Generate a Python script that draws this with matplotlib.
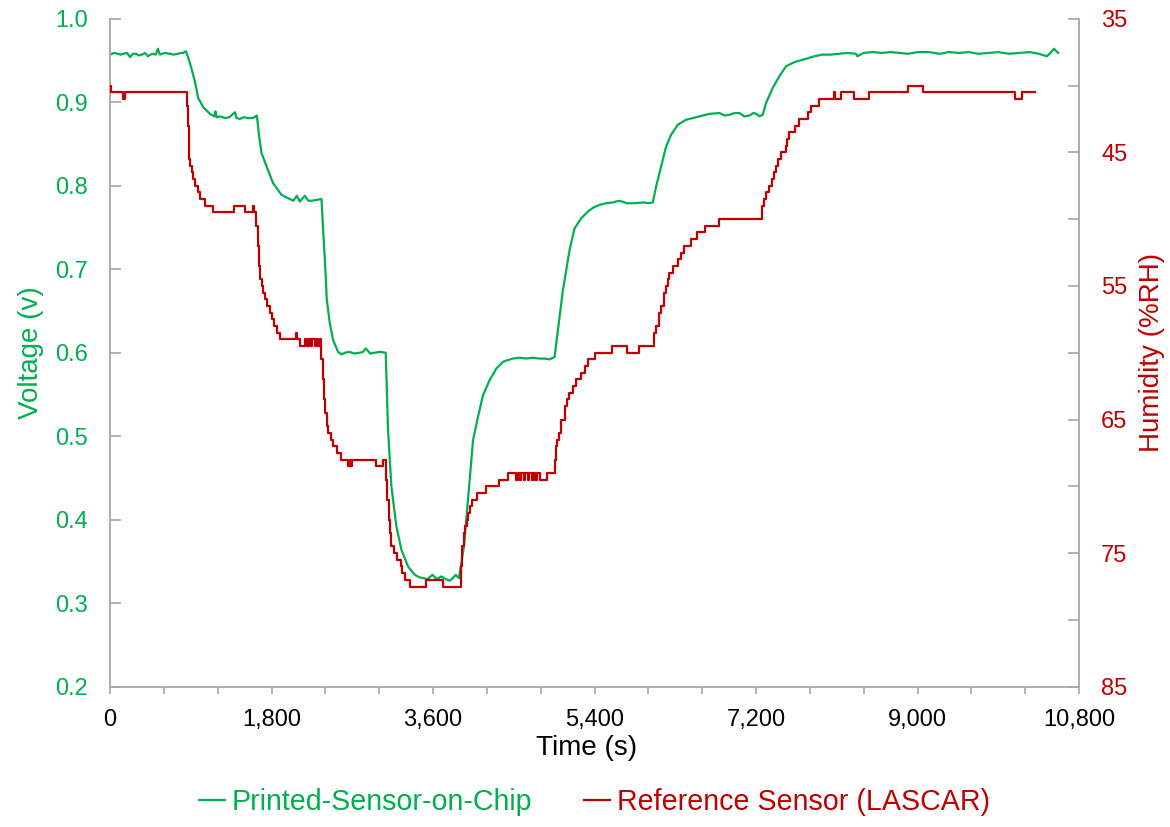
import matplotlib
matplotlib.use('Agg')
import matplotlib.pyplot as plt
from matplotlib.ticker import MultipleLocator, FuncFormatter

# Step 1: Data
# printed sensor output voltage (v) against time (s)
sensor_t = [0, 45, 89, 120, 156, 190, 223, 255, 290, 320, 356, 390, 423, 450, 479, 510,
            534, 555, 579, 620, 668, 710, 757, 790, 813, 846, 891, 946, 983, 1039,
            1114, 1165, 1175, 1190, 1230, 1280, 1330, 1392, 1410, 1448, 1490, 1537, 1590, 1637,
            1662, 1689, 1745, 1818, 1912, 2004, 2045, 2082, 2116, 2140, 2171, 2210, 2249, 2300, 2357,
            2405, 2415, 2450, 2487, 2542, 2579, 2620, 2672, 2720, 2784, 2820, 2851, 2900, 2951, 3010, 3073,
            3099, 3136, 3192, 3248, 3322, 3396, 3450, 3489, 3540, 3593, 3641, 3693, 3740, 3786, 3820, 3853, 3889,
            3945, 3971, 4009, 4046, 4101, 4157, 4231, 4306, 4379, 4430, 4491, 4565, 4640, 4713, 4780, 4844, 4900, 4955,
            4992, 5048, 5122, 5178, 5252, 5326, 5390, 5456, 5530, 5604, 5679, 5760, 5846, 5950, 6000, 6050,
            6087, 6142, 6198, 6254, 6328, 6421, 6570, 6680, 6792, 6850, 6904, 6960, 7015, 7070, 7126, 7170, 7204, 7240, 7275,
            7312, 7386, 7460, 7535, 7627, 7757, 7850, 7942, 8030, 8129, 8220, 8314, 8329, 8400, 8496,
            8600, 8700, 8797, 8900, 9000, 9131, 9250, 9350, 9465, 9570, 9680, 9799, 9900, 10020, 10133,
            10250, 10350, 10444, 10480, 10522, 10567]
sensor_v = [0.957, 0.959, 0.958, 0.957, 0.958, 0.959, 0.954, 0.958, 0.958, 0.956, 0.957, 0.959, 0.955, 0.957, 0.958, 0.957,
            0.964, 0.957, 0.958, 0.959, 0.958, 0.957, 0.958, 0.959, 0.959, 0.961, 0.947, 0.925, 0.905, 0.894,
            0.886, 0.883, 0.889, 0.882, 0.883, 0.881, 0.882, 0.888, 0.881, 0.880, 0.882, 0.881, 0.881, 0.884,
            0.859, 0.839, 0.823, 0.803, 0.789, 0.784, 0.782, 0.788, 0.781, 0.784, 0.788, 0.782, 0.782, 0.783, 0.784,
            0.690, 0.665, 0.635, 0.615, 0.601, 0.598, 0.600, 0.601, 0.599, 0.600, 0.601, 0.605, 0.599, 0.600, 0.601, 0.600,
            0.507, 0.440, 0.392, 0.364, 0.344, 0.334, 0.331, 0.330, 0.329, 0.334, 0.329, 0.332, 0.329, 0.327, 0.330, 0.334, 0.330,
            0.368, 0.400, 0.448, 0.495, 0.523, 0.549, 0.567, 0.581, 0.589, 0.591, 0.593, 0.594, 0.593, 0.594, 0.593, 0.593, 0.592, 0.595,
            0.627, 0.675, 0.723, 0.749, 0.761, 0.769, 0.774, 0.777, 0.779, 0.780, 0.782, 0.779, 0.779, 0.780, 0.779, 0.780,
            0.799, 0.823, 0.847, 0.861, 0.873, 0.879, 0.883, 0.886, 0.887, 0.884, 0.885, 0.887, 0.887, 0.883, 0.884, 0.887, 0.886, 0.883, 0.885,
            0.899, 0.917, 0.931, 0.943, 0.948, 0.952, 0.955, 0.957, 0.957, 0.958, 0.959, 0.958, 0.955, 0.959, 0.960,
            0.959, 0.960, 0.959, 0.958, 0.960, 0.960, 0.958, 0.960, 0.959, 0.960, 0.958, 0.959, 0.960, 0.958, 0.959,
            0.960, 0.958, 0.955, 0.959, 0.964, 0.959]

# LASCAR reference humidity (%RH), one entry per logger step
lascar_t = [0, 10, 145, 165, 861, 868, 876, 884, 895, 915, 930, 947, 980, 1002, 1058, 1150, 1381, 1503, 1590, 1610,
            1630, 1645, 1660, 1675, 1690, 1700, 1725, 1745, 1780, 1800, 1830, 1860, 1895, 2070, 2085, 2120,
            2175, 2200, 2215, 2240, 2255, 2280, 2295, 2320, 2335,
            2355, 2370, 2385, 2400, 2415, 2430, 2460, 2490, 2530, 2575, 2655, 2670, 2685, 2700, 2962, 3040,
            3075, 3090, 3105, 3120, 3135, 3170, 3200, 3240, 3250, 3290, 3345, 3519, 3712,
            3909, 3925, 3940, 3958, 3975, 3990, 4016, 4030, 4090, 4194, 4334, 4434,
            4530, 4545, 4570, 4585, 4610, 4625, 4660, 4675, 4700, 4715, 4740, 4755, 4788, 4870,
            4955, 4970, 4985, 5003, 5030, 5066, 5095, 5121, 5159, 5196, 5252, 5289, 5326, 5400, 5596, 5760, 5901,
            6068, 6090, 6115, 6142, 6170, 6198, 6215, 6235, 6280, 6328, 6365, 6402, 6477, 6540, 6636, 6792,
            7268, 7290, 7311, 7345, 7378, 7400, 7423, 7450, 7479, 7534, 7550, 7572, 7635, 7683, 7776, 7813, 7898,
            8065, 8080, 8147, 8296, 8463, 8889, 9056, 10088, 10163, 10311]
lascar_h = [40.0, 40.5, 41.0, 40.5, 41.5, 43.0, 44.5, 45.5, 46.0, 46.5, 47.0, 47.5, 48.0, 48.5, 49.0, 49.5, 49.0, 49.5, 49.0, 49.5,
            50.5, 52.0, 53.5, 54.5, 55.0, 55.5, 56.0, 56.5, 57.0, 57.5, 58.0, 58.5, 59.0, 58.5, 59.0, 59.5,
            59.0, 59.5, 59.0, 59.5, 59.0, 59.5, 59.0, 59.5, 59.0,
            60.5, 62.0, 63.5, 64.5, 65.5, 66.0, 66.5, 67.0, 67.5, 68.0, 68.5, 68.0, 68.5, 68.0, 68.5, 68.0,
            69.5, 71.0, 72.5, 73.5, 74.5, 75.0, 75.5, 76.0, 76.5, 77.0, 77.5, 77.0, 77.5,
            76.0, 74.5, 73.5, 73.0, 72.5, 72.0, 71.5, 71.0, 70.5, 70.0, 69.5, 69.0,
            69.5, 69.0, 69.5, 69.0, 69.5, 69.0, 69.5, 69.0, 69.5, 69.0, 69.5, 69.0, 69.5, 69.0,
            68.0, 67.0, 66.5, 66.0, 65.0, 64.0, 63.5, 63.0, 62.5, 62.0, 61.5, 61.0, 60.5, 60.0, 59.5, 60.0, 59.5,
            58.5, 58.0, 57.0, 56.5, 55.5, 55.0, 54.5, 54.0, 53.5, 53.0, 52.5, 52.0, 51.5, 51.0, 50.5, 50.0,
            49.0, 48.5, 48.0, 47.5, 47.0, 46.5, 46.0, 45.5, 45.0, 44.5, 44.0, 43.5, 43.0, 42.5, 42.0, 41.5, 41.0,
            40.5, 41.0, 40.5, 41.0, 40.5, 40.0, 40.5, 41.0, 40.5, 40.5]

time_ticks = [0, 1800, 3600, 5400, 7200, 9000, 10800]
volt_ticks = [0.2, 0.3, 0.4, 0.5, 0.6, 0.7, 0.8, 0.9, 1.0]
hum_ticks = [35, 45, 55, 65, 75, 85]

green = '#00B050'
red = '#C00000'
grey = '#A6A6A6'

plt.rcParams['font.family'] = ['Liberation Sans', 'DejaVu Sans']

# Step 2: Figure and twin axes
fig = plt.figure(figsize=(11.7, 8.27), dpi=100)
ax = fig.add_axes([110 / 1170, 1 - 686.7 / 827, 969 / 1170, 668 / 827])
ax2 = ax.twinx()

l1, = ax.plot(sensor_t, sensor_v, color=green, lw=1.6, label='Printed-Sensor-on-Chip')
l2, = ax2.plot(lascar_t, lascar_h, color=red, lw=1.6, drawstyle='steps-post',
               label='Reference Sensor (LASCAR)')

# Step 3: Axes styling
ax.set_xlim(0, 10800)
ax.set_ylim(0.2, 1.0)
ax2.set_ylim(85, 35)

ax.set_xticks(time_ticks)
ax.xaxis.set_minor_locator(MultipleLocator(600))
ax.xaxis.set_major_formatter(FuncFormatter(lambda x, p: f'{x:,.0f}'))
ax.set_yticks(volt_ticks)
ax.yaxis.set_major_formatter(FuncFormatter(lambda y, p: f'{y:.1f}'))
ax2.set_yticks(hum_ticks)
ax2.yaxis.set_minor_locator(MultipleLocator(5))

for a in (ax, ax2):
    for s in a.spines.values():
        s.set_color(grey)
        s.set_linewidth(1.3)
    a.spines['top'].set_visible(False)
ax.spines['right'].set_visible(False)
ax2.spines['left'].set_visible(False)
ax2.spines['bottom'].set_visible(False)

ax.tick_params(axis='x', which='both', direction='out', length=5, width=1.2, color=grey,
               labelsize=17, pad=11, labelcolor='black')
ax.tick_params(axis='y', which='both', direction='in', length=8, width=1.2, color=grey,
               labelsize=17, pad=16, labelcolor=green)
ax2.tick_params(axis='y', which='both', direction='in', length=8, width=1.2, color=grey,
                labelsize=17, pad=16, labelcolor=red)

ax.set_xlabel('Time (s)', fontsize=20)
ax.xaxis.set_label_coords(0.492, -0.072)
ax.set_ylabel('Voltage (v)', fontsize=20, color=green, labelpad=8)
ax2.set_ylabel('Humidity (%RH)', fontsize=20, color=red, labelpad=8)

# Step 4: Legend under the plot
fig.legend(handles=[l1, l2], loc='center', bbox_to_anchor=(594.5 / 1170, 1 - 802 / 827),
           ncol=2, frameon=False, fontsize=20.6, handlelength=0.9, handletextpad=0.25,
           columnspacing=1.8, labelcolor='linecolor')

fig.savefig('out.png', dpi=100)
